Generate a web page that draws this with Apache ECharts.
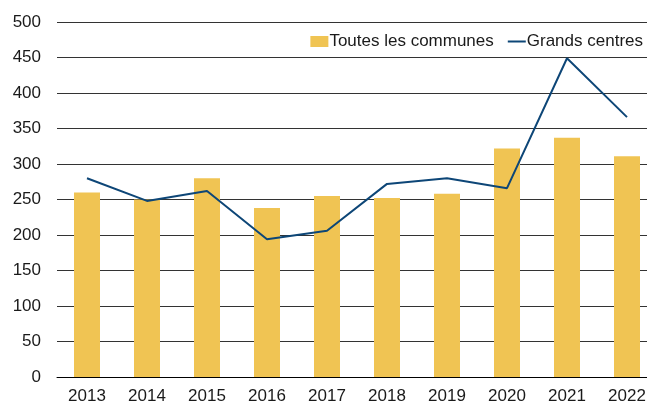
<!DOCTYPE html>
<html>
<head>
<meta charset="utf-8">
<script src="https://cdn.jsdelivr.net/npm/echarts@6/dist/echarts.min.js"></script>
<style>
  html, body { margin: 0; padding: 0; background: #fff; overflow: hidden; }
  #chart { width: 657px; height: 405px; }
</style>
</head>
<body>
<div id="chart"></div>
<script>
const years = ['2013', '2014', '2015', '2016', '2017', '2018', '2019', '2020', '2021', '2022']
const toutesLesCommunes = [260, 250, 280, 238, 255, 252, 258, 322, 337, 311]
const grandsCentres = [280, 248, 262, 194, 206, 272, 280, 266, 449, 366]

const font = 'Liberation Sans, Arial, Helvetica, sans-serif'

// the plot runs 10px past the right edge of the visible 647px window
const options = {
  animation: false,
  textStyle: { fontFamily: font },
  grid: { left: 57, right: 0, top: 22, bottom: 28, outerBoundsMode: 'none' },
  legend: {
    right: 9,
    top: 28,
    itemGap: 13,
    itemWidth: 18,
    itemHeight: 11,
    textStyle: { fontFamily: font, fontSize: 17, color: '#1a1a1a', padding: [0, 0, 0, -4] },
    data: [
      { name: 'Toutes les communes', icon: 'rect' },
      { name: 'Grands centres', itemStyle: { opacity: 0 }, lineStyle: { width: 2, color: '#0d4677' } },
    ],
  },
  xAxis: {
    type: 'category',
    data: years,
    axisLine: { lineStyle: { color: '#000', width: 1 } },
    axisTick: { length: 6, lineStyle: { color: '#000' } },
    axisLabel: { color: '#1a1a1a', fontSize: 17, fontFamily: font, margin: 11 },
  },
  yAxis: {
    type: 'value',
    min: 0,
    max: 500,
    interval: 50,
    axisLine: { show: false },
    axisTick: { show: false },
    axisLabel: { color: '#1a1a1a', fontSize: 17, fontFamily: font, margin: 16 },
    splitLine: { lineStyle: { color: '#333', width: 1 } },
  },
  series: [
    {
      name: 'Toutes les communes',
      type: 'bar',
      data: toutesLesCommunes,
      barWidth: 26,
      itemStyle: { color: '#f0c453' },
    },
    {
      name: 'Grands centres',
      type: 'line',
      data: grandsCentres,
      symbol: 'none',
      lineStyle: { color: '#0d4677', width: 2 },
      itemStyle: { color: '#0d4677' },
    },
  ],
}

const chart = echarts.init(document.getElementById('chart'))
chart.setOption(options)
window.onresize = function () {
  chart.resize()
}
</script>
</body>
</html>
